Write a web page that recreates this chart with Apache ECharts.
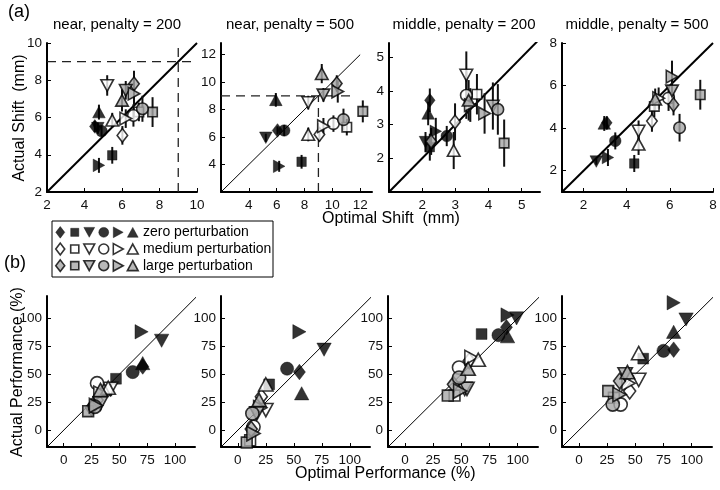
<!DOCTYPE html>
<html><head><meta charset="utf-8">
<script src="https://cdn.jsdelivr.net/npm/echarts@6/dist/echarts.min.js"></script>
<style>html,body{margin:0;padding:0;background:#fff}#c{width:720px;height:490px}</style>
</head><body><div id="c"></div>
<script>
// marker shapes (order used in every data array) and perturbation levels
const shapes = ['diamond','square','down','circle','right','up'];
const fills = ['zero perturbation','medium perturbation','large perturbation'];

// ---- (a) Actual vs optimal shift (mm): [optimal, actual, half error] ----
const a1Zero   = [[4.55,5.52,0.3],[5.48,3.97,0.45],[4.71,5.43,0.3],[4.91,5.27,0.3],[4.77,3.43,0.4],[4.77,6.29,0.4]];
const a1Medium = [[6.02,5.04,0.5],[6.9,6.3,0.5],[5.21,7.72,0.55],[6.61,6.11,0.6],[6.2,5.94,0.5],[5.48,5.85,0.4]];
const a1Large  = [[6.64,7.81,0.7],[7.63,6.29,0.8],[6.2,7.46,0.5],[7.09,6.47,0.7],[6.64,7.28,0.6],[6.0,6.92,0.6]];

const a2Zero   = [[6.06,6.48,0.3],[7.79,4.2,0.5],[5.22,5.95,0.3],[6.54,6.48,0.4],[6.18,3.87,0.4],[5.94,8.71,0.5]];
const a2Medium = [[9.07,6.19,0.5],[11.04,6.72,0.6],[8.27,8.51,0.5],[10.08,6.98,0.6],[9.36,6.79,0.6],[8.27,6.19,0.5]];
const a2Large  = [[10.32,9.9,0.6],[12.19,7.87,0.8],[9.36,9.07,0.5],[10.8,7.27,0.8],[10.39,9.31,0.8],[9.24,10.62,0.7]];

const a3Zero   = [[2.23,3.72,0.35],[2.23,2.33,0.4],[2.1,2.48,0.3],[2.74,2.66,0.3],[2.41,2.8,0.4],[2.18,3.33,0.35]];
const a3Medium = [[2.99,3.08,0.55],[3.65,3.9,0.6],[3.33,4.47,0.7],[3.33,3.87,0.7],[3.45,3.58,0.5],[2.95,2.23,0.55]];
const a3Large  = [[2.27,2.5,0.4],[4.47,2.45,0.7],[4.13,3.55,0.7],[4.28,3.45,0.75],[3.88,3.33,0.6],[3.4,3.72,0.6]];

const a4Zero   = [[3.08,4.25,0.3],[4.35,2.34,0.4],[2.59,2.43,0.15],[3.47,3.4,0.4],[3.13,2.62,0.4],[2.96,4.22,0.35]];
const a4Medium = [[5.17,4.33,0.5],[5.28,5.02,0.5],[4.55,3.86,0.5],[5.94,5.41,0.6],[5.48,5.41,0.5],[4.55,3.24,0.5]];
const a4Large  = [[6.17,5.1,0.5],[7.41,5.57,0.7],[6.1,5.75,0.6],[6.45,4.02,0.65],[6.1,6.42,0.75],[5.32,5.36,0.5]];

// ---- (b) Actual vs optimal performance (%): [optimal, actual] ----
const b1Zero   = [[71,57],[47,46],[88,80],[62,52],[70,88],[71,60]];
const b1Medium = [[30,27],[38,36],[42,37],[30,42],[33,33],[40,38]];
const b1Large  = [[25,20],[22,17],[33,24],[28,21],[29,22],[33,36]];

const b2Zero   = [[55,52],[28,41],[77,72],[44,55],[55,88],[57,33]];
const b2Medium = [[21,30],[11,-9],[25,18],[14,3],[20,20],[25,41]];
const b2Large  = [[12,1],[8,-11],[17,15],[13,15],[14,-3],[19,27]];

const b3Zero   = [[90,92],[68,86],[99,100],[83,85],[91,103],[91,84]];
const b3Medium = [[57,62],[44,31],[53,37],[48,56],[59,65],[65,63]];
const b3Large  = [[43,41],[38,31],[55,37],[48,47],[49,35],[56,55]];

const b4Zero   = [[84,72],[57,64],[95,99],[75,71],[84,114],[84,88]];
const b4Medium = [[45,35],[31,29],[53,45],[37,23],[44,42],[53,69]];
const b4Large  = [[36,44],[26,35],[41,50],[30,23],[36,32],[43,52]];

// axes: ranges and tick labels
const aTitles = ['near, penalty = 200','near, penalty = 500','middle, penalty = 200','middle, penalty = 500'];
const aXRange = [[2,10],[2,12.85],[1,5.55],[1,8]];
const aYRange = [[2,10],[2,12.85],[1,5.42],[1,8]];
const aTicks  = [[2,4,6,8,10],[4,6,8,10,12],[2,3,4,5],[2,4,6,8]];
const aDiag   = [[2,10],[2,12],[1,5.5],[1,8]];
const a1GuideH = [[2,9],[10,9]];
const a1GuideV = [[9,2],[9,10]];
const a2GuideH = [[2,9],[11.7,9]];
const a2GuideV = [[9,2],[9,9]];
const bRangeX = [-15,118];
const bRangeY = [-15,120];
const bTicks  = [0,25,50,75,100];
const bDiag   = [-15,120];

const panelsA = [[a1Zero,a1Medium,a1Large],[a2Zero,a2Medium,a2Large],[a3Zero,a3Medium,a3Large],[a4Zero,a4Medium,a4Large]];
const panelsB = [[b1Zero,b1Medium,b1Large],[b2Zero,b2Medium,b2Large],[b3Zero,b3Medium,b3Large],[b4Zero,b4Medium,b4Large]];

const FONT = '"Liberation Sans", Arial, sans-serif';
const fillColors = ['#000000','#ffffff','#a6a6a6'];
const symDef = {
  diamond:{symbol:'diamond', size:[10,13], rot:0},
  square:{symbol:'rect', size:[9,9], rot:0},
  down:{symbol:'triangle', size:[12,11], rot:180},
  circle:{symbol:'circle', size:[11,11], rot:0},
  right:{symbol:'triangle', size:[12,11], rot:-90},
  up:{symbol:'triangle', size:[12,11], rot:0}
};

const gridsA = [
  {left:47, top:43, width:150, height:149},
  {left:221, top:43, width:151, height:149},
  {left:389, top:43, width:151, height:149},
  {left:562, top:43, width:151, height:149}
];
const gridsB = [
  {left:47, top:296, width:148, height:151},
  {left:221, top:296, width:149, height:151},
  {left:388, top:296, width:150, height:151},
  {left:562, top:296, width:150, height:151}
];
const legendGrid = {left:53, top:224, width:87, height:50};

const grid = [], xAxis = [], yAxis = [], series = [];

function valAxis(range, ticks, gi, isX){
  return {
    type:'value', gridIndex:gi, min:range[0], max:range[1],
    axisLine:{show:true, onZero:false, lineStyle:{color:'#000', width:2}},
    axisTick:{show:true, inside:true, length:4, customValues:ticks, lineStyle:{color:'#000', width:1}},
    axisLabel:{show:true, customValues:ticks, color:'#111', fontSize:13.5, fontFamily:FONT, margin:isX?6:5},
    splitLine:{show:false}
  };
}

function markerItems(rows, fi, scale){
  return rows.map((r,k)=>{
    const d = symDef[shapes[k]];
    return {
      value:[r[0], r[1]],
      symbol:d.symbol,
      symbolSize:[d.size[0]*scale, d.size[1]*scale],
      symbolRotate:d.rot,
      itemStyle:{color:fillColors[fi], borderColor:'#000', borderWidth: fi===0?0.5:1.6}
    };
  });
}

function errSeries(rows, ai){
  return {
    type:'custom', xAxisIndex:ai, yAxisIndex:ai, z:2, silent:true,
    data: rows.map(r=>[r[0], r[1]-r[2], r[1]+r[2]]),
    encode:{x:0, y:[1,2]},
    renderItem:(params, api)=>{
      const p1 = api.coord([api.value(0), api.value(1)]);
      const p2 = api.coord([api.value(0), api.value(2)]);
      return {type:'line', shape:{x1:p1[0], y1:p1[1], x2:p2[0], y2:p2[1]}, style:{stroke:'#111', lineWidth:2}};
    }
  };
}

function lineSeries(data, ai, style){
  return {type:'line', xAxisIndex:ai, yAxisIndex:ai, data:data, symbol:'none', silent:true, z:1,
    lineStyle:style, animation:false};
}

// panel (a)
panelsA.forEach((p,i)=>{
  grid.push(gridsA[i]);
  xAxis.push(valAxis(aXRange[i], aTicks[i], i, true));
  yAxis.push(valAxis(aYRange[i], aTicks[i], i, false));
  const dg = aDiag[i];
  series.push(lineSeries([[dg[0],dg[0]],[dg[1],dg[1]]], i, {color:'#000', width: i===1?1:2}));
  p.forEach(rows=>series.push(errSeries(rows, i)));
  p.forEach((rows,fi)=>series.push({type:'scatter', xAxisIndex:i, yAxisIndex:i, z:3+fi, data:markerItems(rows, fi, 1.05), animation:false}));
});
const dashStyle = {color:'#222', width:1.3, type:[9,6]};
series.push(lineSeries(a1GuideH, 0, dashStyle));
series.push(lineSeries(a1GuideV, 0, dashStyle));
series.push(lineSeries(a2GuideH, 1, dashStyle));
series.push(lineSeries(a2GuideV, 1, dashStyle));

// panel (b)
panelsB.forEach((p,i)=>{
  const ai = 4+i;
  grid.push(gridsB[i]);
  xAxis.push(valAxis(bRangeX, bTicks, ai, true));
  yAxis.push(valAxis(bRangeY, bTicks, ai, false));
  series.push(lineSeries([[bDiag[0],bDiag[0]],[bDiag[1],bDiag[1]]], ai, {color:'#000', width:1}));
  p.forEach((rows,fi)=>series.push({type:'scatter', xAxisIndex:ai, yAxisIndex:ai, z:3+fi, data:markerItems(rows, fi, 1.2), animation:false}));
});

// legend as a small grid of symbols
grid.push(legendGrid);
xAxis.push({type:'category', gridIndex:8, data:shapes, show:false, boundaryGap:true});
yAxis.push({type:'category', gridIndex:8, data:fills, show:false, inverse:true, boundaryGap:true});
fills.forEach((f,fi)=>{
  series.push({type:'scatter', xAxisIndex:8, yAxisIndex:8, animation:false,
    data: shapes.map((s,k)=>{
      const d = symDef[s];
      return {value:[k, fi], symbol:d.symbol, symbolSize:[d.size[0]*0.9, d.size[1]*0.9], symbolRotate:d.rot,
        itemStyle:{color:fillColors[fi], borderColor:'#000', borderWidth: fi===0?0.5:1.6}};
    })});
});

const graphic = [
  {type:'rect', shape:{x:52, y:221, width:221, height:56}, style:{fill:'none', stroke:'#000', lineWidth:1}},
  {type:'text', x:8, y:12, style:{text:'(a)', font:'18px '+FONT, fill:'#000', textVerticalAlign:'middle'}},
  {type:'text', x:4, y:263, style:{text:'(b)', font:'18px '+FONT, fill:'#000', textVerticalAlign:'middle'}},
  {type:'text', x:20, y:118, rotation:Math.PI/2, style:{text:'Actual Shift  (mm)', font:'16px '+FONT, fill:'#000', textAlign:'center', textVerticalAlign:'middle'}},
  {type:'text', x:322, y:219, style:{text:'Optimal Shift  (mm)', font:'16px '+FONT, fill:'#000', textVerticalAlign:'middle'}},
  {type:'text', x:18, y:372, rotation:Math.PI/2, style:{text:'Actual Performance (%)', font:'16px '+FONT, fill:'#000', textAlign:'center', textVerticalAlign:'middle'}},
  {type:'text', x:295, y:474, style:{text:'Optimal Performance (%)', font:'16px '+FONT, fill:'#000', textVerticalAlign:'middle'}}
];
const titleX = [117, 290, 464, 637];
aTitles.forEach((t,i)=>graphic.push({type:'text', x:titleX[i], y:25, style:{text:t, font:'15px '+FONT, fill:'#000', textAlign:'center', textVerticalAlign:'middle'}}));
const legendY = [232, 249, 266];
fills.forEach((f,i)=>graphic.push({type:'text', x:143, y:legendY[i], style:{text:f, font:'14px '+FONT, fill:'#000', textVerticalAlign:'middle'}}));

const chart = echarts.init(document.getElementById('c'), null, {renderer:'canvas'});
chart.setOption({animation:false, backgroundColor:'#fff', grid, xAxis, yAxis, series, graphic});
</script></body></html>
